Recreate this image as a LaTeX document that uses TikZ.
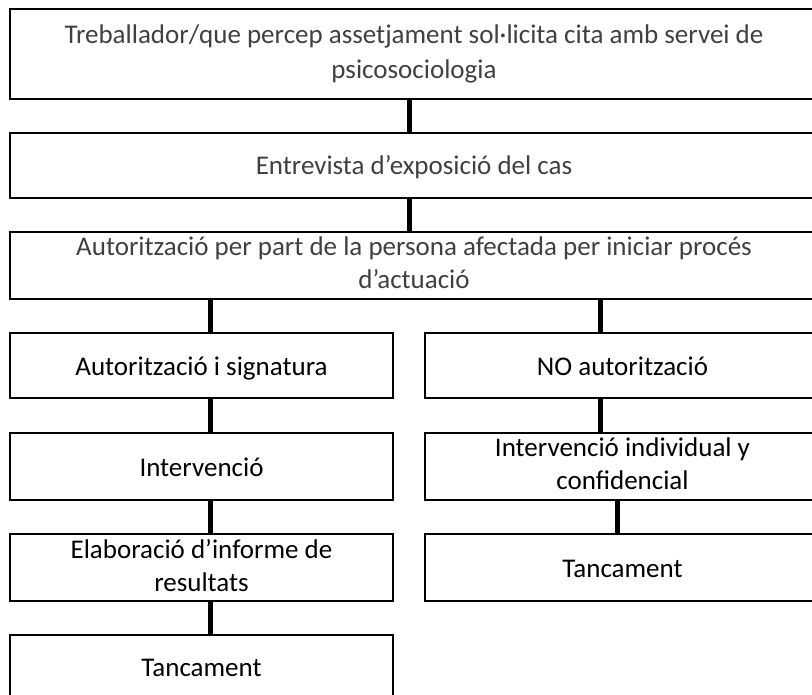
\documentclass[tikz,border=0pt]{standalone}
\usepackage{fontspec}
\setmainfont{Carlito}
\definecolor{txtgray}{RGB}{64,64,64}
\newcommand{\boxstrut}{\rule[-5pt]{0pt}{29pt}}
\tikzset{
	box/.style={draw, line width=2pt, inner sep=0pt, align=center,
		font=\fontsize{27}{33}\selectfont,
		execute at begin node=\boxstrut, execute at end node=\boxstrut},
	link/.style={line width=5pt},
}
\begin{document}
\begin{tikzpicture}[x=1pt,y=-1pt]
	\clip (0,0) rectangle (812,695);
	%Caixes de dalt
	\node[box, text=txtgray, minimum width=808, minimum height=90, font=\fontsize{27}{35}\selectfont] (b1) at (414,54)
		{Treballador/que percep assetjament sol·licita cita amb servei de\\psicosociologia};
	\node[box, text=txtgray, minimum width=808, minimum height=65] (b2) at (414,165.5)
		{Entrevista d’exposició del cas};
	\node[box, text=txtgray, minimum width=808, minimum height=67] (b3) at (414,265.5)
		{Autorització per part de la persona afectada per iniciar procés\\d’actuació};
	%Branca esquerra
	\node[box, minimum width=383, minimum height=65] (l1) at (201.5,365.5) {Autorització i signatura};
	\node[box, minimum width=383, minimum height=67] (l2) at (201.5,466.5) {Intervenció};
	\node[box, minimum width=383, minimum height=67] (l3) at (201.5,567.5) {Elaboració d’informe de\\resultats};
	\node[box, minimum width=383, minimum height=64] (l4) at (201.5,667) {Tancament};
	%Branca dreta
	\node[box, minimum width=395, minimum height=65] (r1) at (622.5,365.5) {NO autorització};
	\node[box, minimum width=395, minimum height=67] (r2) at (622.5,466.5) {Intervenció individual y\\confidencial};
	\node[box, minimum width=395, minimum height=67] (r3) at (622.5,567.5) {Tancament};
	%Línies
	\draw[link] ([xshift=-5pt]b1.south) -- ([xshift=-5pt]b2.north);
	\draw[link] ([xshift=-5pt]b2.south) -- ([xshift=-5pt]b3.north);
	\draw[link] ([xshift=8.5pt]l1.north |- b3.south) -- ([xshift=8.5pt]l1.north);
	\draw[link] ([xshift=8.5pt]l1.south) -- ([xshift=8.5pt]l2.north);
	\draw[link] ([xshift=8.5pt]l2.south) -- ([xshift=8.5pt]l3.north);
	\draw[link] ([xshift=8.5pt]l3.south) -- ([xshift=8.5pt]l4.north);
	\draw[link] ([xshift=-22.5pt]r1.north |- b3.south) -- ([xshift=-22.5pt]r1.north);
	\draw[link] ([xshift=-22.5pt]r1.south) -- ([xshift=-22.5pt]r2.north);
	\draw[link] ([xshift=-5.5pt]r2.south) -- ([xshift=-5.5pt]r3.north);
\end{tikzpicture}
\end{document}
